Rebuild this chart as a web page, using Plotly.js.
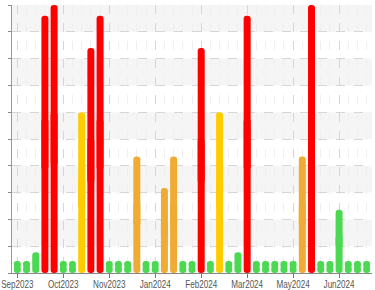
<!DOCTYPE html>
<html>
<head>
<meta charset="utf-8">
<script src="https://cdn.plot.ly/plotly-3.0.1.min.js"></script>
<style>
html,body{margin:0;padding:0;background:#fff;}
#chart{width:375px;height:290px;}
</style>
</head>
<body>
<div id="chart"></div>
<script>
// Tick labels (every 5th bar) and their positions (bar index)
const tickIndex = [0, 5, 10, 15, 20, 25, 30, 35];
const tickLabels = ["Sep2023", "Oct2023", "Nov2023", "Jan2024", "Feb2024", "Mar2024", "May2024", "Jun2024"];

// Bar values (one per period)
const values = [0.45, 0.45, 0.77, 9.6, 10, 0.45, 0.45, 6, 8.4, 9.6,
                0.45, 0.45, 0.45, 4.35, 0.45, 0.45, 3.17, 4.35, 0.45, 0.45,
                8.4, 0.45, 6, 0.45, 0.77, 9.6, 0.45, 0.45, 0.45, 0.45,
                0.45, 4.35, 10, 0.45, 0.45, 2.36, 0.45, 0.45, 0.45];

function colorFor(v) {
  if (v >= 8) return "#ff0000";
  if (v >= 5) return "#ffcc00";
  if (v >= 3) return "#efab33";
  return "#4cd952";
}

const idx = values.map((_, i) => i);
const colors = values.map(colorFor);

// upper piece: rounded top; lower piece: rounded bottom; they overlap in the middle
const upper = {
  type: "bar", x: idx, base: values.map(v => v * 0.4), y: values.map(v => v * 0.6),
  width: 0.76, marker: { color: colors, cornerradius: "50%", line: { width: 0 } },
  hoverinfo: "skip", showlegend: false
};
const lower = {
  type: "bar", x: idx, base: values.map(v => v * 0.6), y: values.map(v => -v * 0.6),
  width: 0.76, marker: { color: colors, cornerradius: "50%", line: { width: 0 } },
  hoverinfo: "skip", showlegend: false
};

const shapes = [];
for (let k = 1; k < 10; k += 2) {
  shapes.push({
    type: "rect", xref: "paper", yref: "y", x0: 0, x1: 1, y0: k, y1: k + 1,
    fillcolor: "#f5f5f5", line: { width: 0 }, layer: "below"
  });
}

const layout = {
  width: 375, height: 290,
  margin: { l: 12, r: 3, t: 5, b: 17 },
  paper_bgcolor: "#ffffff",
  plot_bgcolor: "#ffffff",
  barmode: "overlay",
  shapes: shapes,
  font: { family: "Liberation Sans, Arial, sans-serif", size: 10.5, color: "#555" },
  xaxis: {
    type: "linear",
    range: [-0.58, 38.58],
    tickmode: "array",
    tickvals: tickIndex,
    ticktext: tickLabels,
    ticks: "outside", ticklen: 4, tickcolor: "#777", tickwidth: 1,
    ticklabeloverflow: "allow",
    ticklabelstandoff: -3,
    showline: true, linecolor: "#888", linewidth: 1,
    showgrid: true, gridcolor: "#d6d6d6", griddash: "dash", gridwidth: 1,
    minor: { dtick: 1, tick0: 0, showgrid: true, gridcolor: "#efefef", griddash: "dash", ticks: "" },
    zeroline: false,
    automargin: false,
    tickfont: { size: 10.5, color: "#555" }
  },
  yaxis: {
    range: [0, 10],
    dtick: 1, tick0: 0,
    ticks: "outside", ticklen: 3, tickcolor: "#888",
    showticklabels: false,
    showline: true, linecolor: "#999", linewidth: 1,
    showgrid: true, gridcolor: "#d6d6d6", griddash: "dash", gridwidth: 1,
    zeroline: false,
    automargin: false
  }
};

Plotly.newPlot("chart", [upper, lower], layout, { staticPlot: true, displayModeBar: false })
  .then(function (gd) {
    // narrow (condensed) look of the axis labels
    gd.querySelectorAll(".xtick text").forEach(function (t) {
      const w = t.getComputedTextLength();
      t.setAttribute("textLength", (w * 0.77).toFixed(1));
      t.setAttribute("lengthAdjust", "spacingAndGlyphs");
    });
  });
</script>
</body>
</html>
